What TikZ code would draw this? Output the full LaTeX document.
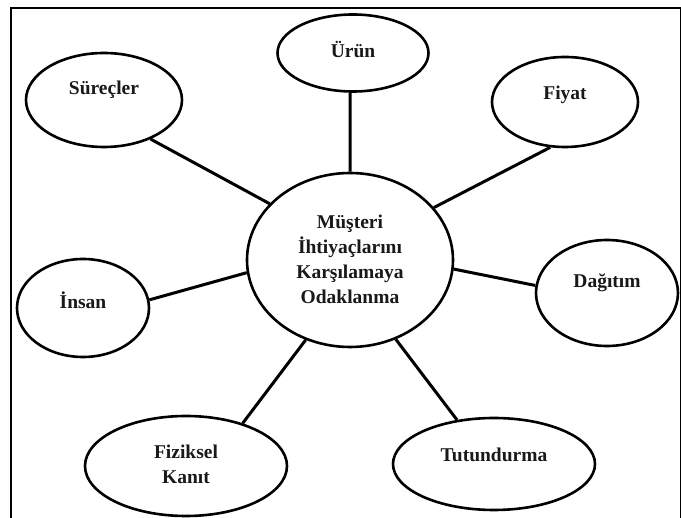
\documentclass[tikz,border=0pt]{standalone}
\usepackage{fontspec}
\setmainfont{Liberation Serif}
\usetikzlibrary{shapes.geometric}
\begin{document}
\begin{tikzpicture}[x=1pt,y=-1pt,
  bubble/.style={draw=black, line width=2.6pt, ellipse, inner sep=0pt, fill=white},
  lbl/.style={font=\fontsize{19.5}{25}\selectfont\bfseries, align=center, inner sep=0pt, text=black!90},
  spoke/.style={draw=black, line width=3pt}]
  \useasboundingbox (0,0) rectangle (681,518);
  % outer frame (bottom edge lies below the page)
  \draw[line width=2.8pt] (11,540) -- (11,8) -- (681.8,8) -- (681.8,540);

  % ellipses
  \node[bubble, minimum width=206pt, minimum height=174pt] (core) at (350,260) {};
  \node[bubble, minimum width=151pt, minimum height=77pt]  (urun) at (353,53) {};
  \node[bubble, minimum width=156pt, minimum height=94pt]  (surec) at (104,100) {};
  \node[bubble, minimum width=146pt, minimum height=90pt]  (fiyat) at (565,102) {};
  \node[bubble, minimum width=132pt, minimum height=98pt]  (insan) at (83,308) {};
  \node[bubble, minimum width=142pt, minimum height=106pt] (dagitim) at (607,293) {};
  \node[bubble, minimum width=202pt, minimum height=100pt] (fizik) at (186,466) {};
  \node[bubble, minimum width=202pt, minimum height=92pt]  (tutun) at (494,464) {};

  % spokes
  \draw[spoke] (urun.-94) -- (core.90);
  \draw[spoke] (surec.-40) -- (core.145.5);
  \draw[spoke] (fiyat.-108) -- (core.32.6);
  \draw[spoke] (insan.7) -- (core.187.6);
  \draw[spoke] (dagitim.174) -- (core.-5.6);
  \draw[spoke] (fizik.37) -- (core.-119.4);
  \draw[spoke] (tutun.130.7) -- (core.-60.6);

  % labels
  \node[lbl] (coreT) at (350,259) {Müşteri\\İhtiyaçlarını\\Karşılamaya\\Odaklanma};
  \node[lbl] (urunT) at (353,50) {Ürün};
  \node[lbl] (surecT) at (104,90) {Süreçler};
  \node[lbl] (fiyatT) at (565,95) {Fiyat};
  \node[lbl] (insanT) at (83,300) {İnsan};
  \node[lbl] (dagitimT) at (607,283) {Dağıtım};
  \node[lbl] (fizikT) at (186,464) {Fiziksel\\Kanıt};
  \node[lbl] (tutunT) at (494,455) {Tutundurma};
\end{tikzpicture}
\end{document}
